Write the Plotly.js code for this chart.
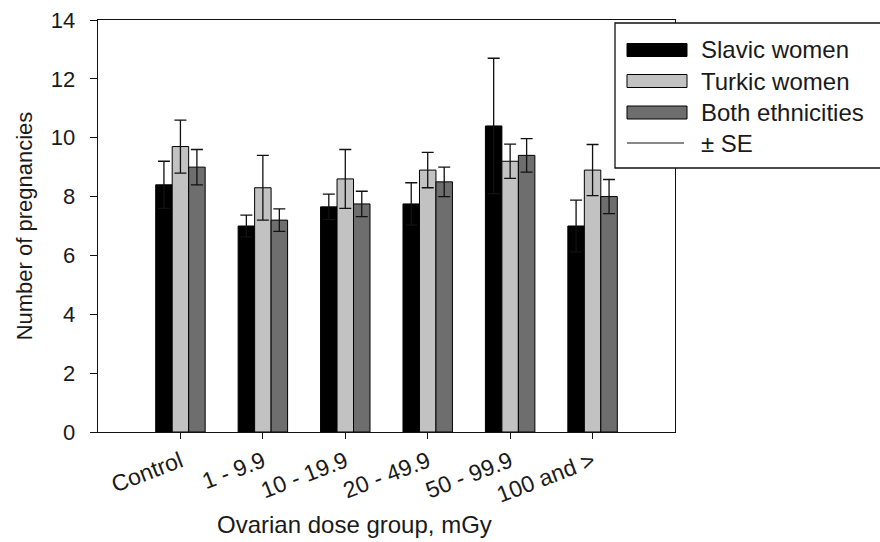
<!DOCTYPE html>
<html>
<head>
<meta charset="utf-8">
<script src="https://cdn.plot.ly/plotly-3.0.1.min.js"></script>
<style>html,body{margin:0;padding:0;background:#fff;}#chart{width:880px;height:542px;}</style>
</head>
<body>
<div id="chart"></div>
<script>
// ---- data ----
const categories = ["Control", "1 - 9.9", "10 - 19.9", "20 - 49.9", "50 - 99.9", "100 and >"];
const slavic = [8.4, 7.0, 7.65, 7.75, 10.4, 7.0];
const slavicSE = [0.8, 0.37, 0.43, 0.72, 2.3, 0.88];
const turkic = [9.7, 8.3, 8.6, 8.9, 9.2, 8.9];
const turkicSE = [0.9, 1.1, 1.0, 0.6, 0.58, 0.87];
const both = [9.0, 7.2, 7.75, 8.5, 9.4, 8.0];
const bothSE = [0.6, 0.38, 0.43, 0.5, 0.57, 0.58];
const seriesNames = ["Slavic women", "Turkic women", "Both ethnicities", "± SE"];
const yTicks = [0, 2, 4, 6, 8, 10, 12, 14];

const FONT = "Liberation Sans, Arial, sans-serif";
const TXT = "#1a1a1a";
const L = 98, R = 675, T = 20, B = 432;
const px2x = p => (p - L) / (R - L);
const px2y = p => (B - p) / (B - T);

function barTrace(name, y, se, color) {
  return {
    type: "bar", name: name, x: categories, y: y,
    marker: {color: color, line: {color: "#000", width: 1}},
    error_y: {type: "data", array: se, visible: true, color: "#111", thickness: 1.3, width: 6},
    showlegend: false
  };
}

const traces = [
  barTrace(seriesNames[0], slavic, slavicSE, "#000000"),
  barTrace(seriesNames[1], turkic, turkicSE, "#c2c2c2"),
  barTrace(seriesNames[2], both, bothSE, "#6e6e6e")
];

// custom legend
const legColors = ["#000000", "#c2c2c2", "#6e6e6e"];
const rowY = [50, 81, 112.5, 143];
const shapes = [{
  type: "rect", xref: "paper", yref: "paper", layer: "above",
  x0: px2x(615), x1: px2x(890), y0: px2y(168), y1: px2y(23),
  fillcolor: "#ffffff", line: {color: "#111", width: 1.3}
}];
for (let i = 0; i < 3; i++) {
  shapes.push({
    type: "rect", xref: "paper", yref: "paper", layer: "above",
    x0: px2x(627), x1: px2x(687), y0: px2y(rowY[i] + 6.5), y1: px2y(rowY[i] - 6.5),
    fillcolor: legColors[i], line: {color: "#000", width: 1}
  });
}
shapes.push({
  type: "line", xref: "paper", yref: "paper", layer: "above",
  x0: px2x(627), x1: px2x(684), y0: px2y(rowY[3]), y1: px2y(rowY[3]),
  line: {color: "#111", width: 1.2}
});
const annotations = seriesNames.map((n, i) => ({
  text: n, xref: "paper", yref: "paper", x: px2x(699), y: px2y(rowY[i]),
  xanchor: "left", yanchor: "middle", showarrow: false,
  font: {family: FONT, size: 24, color: TXT}
}));
annotations.push({
  text: "Ovarian dose group, mGy", xref: "paper", yref: "paper",
  x: px2x(354), y: px2y(524), xanchor: "center", yanchor: "middle", showarrow: false,
  font: {family: FONT, size: 24, color: TXT}
});

const layout = {
  width: 880, height: 542,
  margin: {l: L, r: 880 - R, t: T, b: 542 - B, pad: 0},
  paper_bgcolor: "#ffffff", plot_bgcolor: "#ffffff",
  barmode: "group", bargap: 0.4, bargroupgap: 0,
  font: {family: FONT, size: 22, color: TXT},
  xaxis: {
    type: "category", range: [-1, 6], tickangle: -21,
    showline: true, mirror: true, linecolor: "#111", linewidth: 1.3,
    ticks: "outside", ticklen: 6, tickcolor: "#111", tickwidth: 1,
    showgrid: false, zeroline: false, automargin: false,
    tickfont: {family: FONT, size: 23, color: TXT}
  },
  yaxis: {
    range: [0, 14], tickvals: yTicks, ticktext: yTicks.map(String),
    showline: true, mirror: true, linecolor: "#111", linewidth: 1.3,
    ticks: "outside", ticklen: 7, tickcolor: "#111", tickwidth: 1,
    showgrid: false, zeroline: false, automargin: false,
    ticklabelstandoff: 10,
    tickfont: {family: FONT, size: 22, color: TXT},
    title: {text: "Number of pregnancies", standoff: 12, font: {family: FONT, size: 22, color: TXT}}
  },
  shapes: shapes,
  annotations: annotations
};

Plotly.newPlot("chart", traces, layout, {staticPlot: true, displayModeBar: false});
</script>
</body>
</html>
